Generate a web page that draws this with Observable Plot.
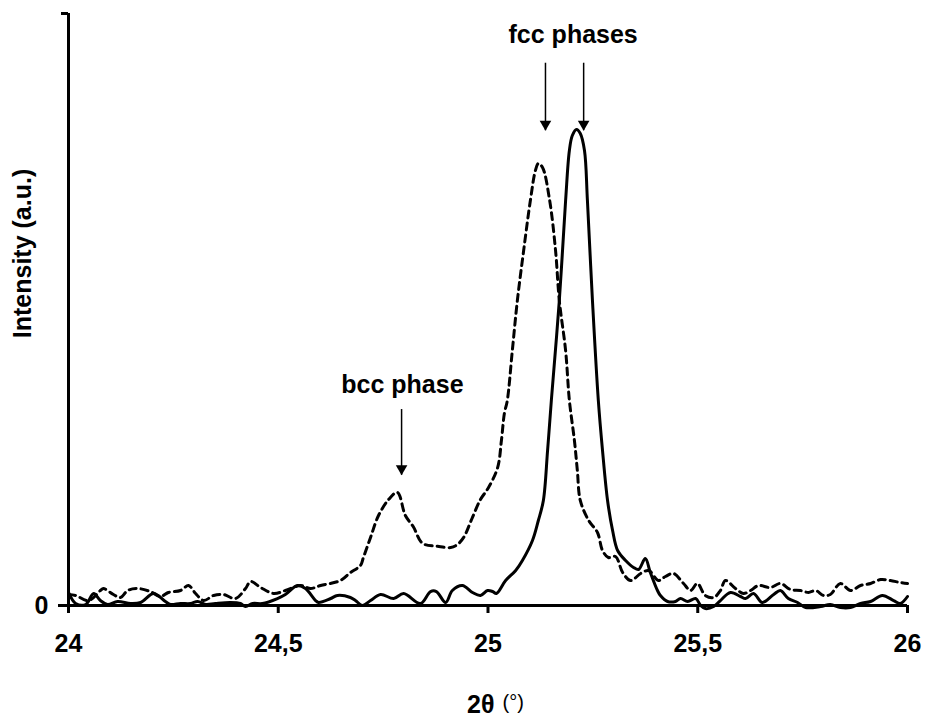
<!DOCTYPE html>
<html><head><meta charset="utf-8">
<script src="https://cdn.jsdelivr.net/npm/d3@7"></script>
<script src="https://cdn.jsdelivr.net/npm/@observablehq/plot@0.6"></script>
<style>html,body{margin:0;padding:0;background:#fff;overflow:hidden}</style>
</head><body><div id="chart"></div>
<script>
// [2θ (°), intensity (a.u., 0–100 scale)]
const solidScan = [
[24.000,2.2],[24.017,0.34],[24.041,0.17],[24.060,2.03],[24.076,0.84],[24.093,0.17],[24.117,0.68],[24.148,0.34],[24.172,0.51],[24.203,2.03],[24.231,0.68],[24.243,0.17],[24.267,0.34],[24.291,0.34],[24.308,0.68],[24.327,0.17],[24.350,0.34],[24.386,0.51],[24.410,0.34],[24.422,-0.17],[24.439,0.34],[24.462,0.34],[24.498,1.18],[24.517,1.86],[24.546,3.38],[24.565,2.87],[24.589,0.84],[24.596,0.51],[24.625,1.18],[24.641,1.69],[24.672,1.35],[24.684,0.84],[24.701,0],[24.720,0.84],[24.744,1.86],[24.775,1.18],[24.799,2.03],[24.839,0.34],[24.863,2.36],[24.877,2.36],[24.899,0.51],[24.915,2.53],[24.939,3.38],[24.963,2.2],[24.982,1.69],[24.999,2.53],[25.011,2.36],[25.020,2.03],[25.042,4.22],[25.066,5.91],[25.082,7.6],[25.106,10.98],[25.120,14.36],[25.132,17.74],[25.142,26.18],[25.151,34.63],[25.170,51.52],[25.185,68.41],[25.194,76.86],[25.201,79.39],[25.211,80.41],[25.220,79.73],[25.230,76.86],[25.237,68.41],[25.249,51.52],[25.263,34.63],[25.273,26.18],[25.285,17.74],[25.297,12.67],[25.309,9.29],[25.328,7.6],[25.347,6.42],[25.359,6.08],[25.375,7.94],[25.387,5.57],[25.404,2.53],[25.411,1.69],[25.428,0.68],[25.447,0.68],[25.459,1.18],[25.476,0.68],[25.495,1.18],[25.507,0],[25.518,-0.51],[25.538,-0.17],[25.554,0.84],[25.578,2.2],[25.602,1.52],[25.614,1.18],[25.633,2.03],[25.654,0.51],[25.681,1.86],[25.697,2.53],[25.716,1.18],[25.738,0.51],[25.757,-0.34],[25.793,-0.17],[25.816,0.17],[25.840,-0.34],[25.864,-0.34],[25.888,0.34],[25.912,0.68],[25.940,1.69],[25.967,0.84],[25.983,0.34],[26.000,1.52]
];
const dashedScan = [
[24.000,1.86],[24.017,1.69],[24.048,0.84],[24.076,2.53],[24.083,2.87],[24.107,1.86],[24.124,1.35],[24.141,2.53],[24.164,2.87],[24.195,2.36],[24.219,1.52],[24.238,2.2],[24.267,2.53],[24.286,3.38],[24.303,2.03],[24.322,0.84],[24.346,1.69],[24.369,1.86],[24.398,1.18],[24.422,2.87],[24.434,4.05],[24.458,3.04],[24.489,2.03],[24.517,2.53],[24.553,3.38],[24.577,2.87],[24.601,3.38],[24.648,4.22],[24.672,5.57],[24.696,6.76],[24.703,8.11],[24.720,11.49],[24.739,15.2],[24.763,17.9],[24.784,19.1],[24.803,15.2],[24.822,13.3],[24.844,10.5],[24.880,10.0],[24.911,9.8],[24.927,10.3],[24.942,11.5],[24.963,14.9],[24.982,17.9],[25.001,19.9],[25.023,23.3],[25.032,27.87],[25.039,32.43],[25.046,34.63],[25.058,43.07],[25.070,51.52],[25.085,59.97],[25.101,68.41],[25.113,73.48],[25.120,74.66],[25.130,73.99],[25.147,68.41],[25.161,59.97],[25.170,51.52],[25.185,43.07],[25.194,34.63],[25.206,27.87],[25.213,22.80],[25.220,17.74],[25.240,14.36],[25.261,12.33],[25.273,9.29],[25.287,8.11],[25.304,8.28],[25.321,5.57],[25.340,4.22],[25.364,5.41],[25.383,5.91],[25.406,4.22],[25.423,4.90],[25.442,5.41],[25.466,3.72],[25.483,2.53],[25.499,3.72],[25.518,1.69],[25.538,1.35],[25.554,2.53],[25.566,4.22],[25.590,2.87],[25.609,2.03],[25.626,2.53],[25.645,3.38],[25.673,3.04],[25.697,3.72],[25.721,2.70],[25.745,2.53],[25.764,2.2],[25.781,2.53],[25.800,1.69],[25.816,1.86],[25.840,3.72],[25.864,2.53],[25.888,3.38],[25.912,3.72],[25.936,4.39],[25.959,4.22],[25.983,3.89],[26.000,3.72]
];
const xTicks = [24, 24.5, 25, 25.5, 26];
const yTicks = [0];
const yTopTick = [100];
const annotations = [
  {text: "fcc phases", x: 25.203, y: 96.3},
  {text: "bcc phase", x: 24.796, y: 37.2}
];
const arrows = [
  {x: 24.794, y1: 33.1, y2: 22.0},
  {x: 25.137, y1: 91.6, y2: 80.2},
  {x: 25.228, y1: 91.6, y2: 80.2}
];
const xTitle = "2θ";
const xUnit = "(°)";
const yTitle = "Intensity (a.u.)";

const font = "'Liberation Sans', Arial, Helvetica, sans-serif";
const chart = Plot.plot({
  width: 927, height: 724,
  marginLeft: 68, marginRight: 20, marginTop: 13, marginBottom: 119,
  style: {fontFamily: font, fontSize: "25px", fontWeight: "bold", color: "black", background: "white", overflow: "visible"},
  x: {domain: [24, 26]},
  y: {domain: [0, 100]},
  marks: [
    Plot.line(dashedScan, {x: d => d[0], y: d => d[1], stroke: "black", strokeWidth: 3, strokeDasharray: "7,5", curve: "catmull-rom"}),
    Plot.line(solidScan, {x: d => d[0], y: d => d[1], stroke: "black", strokeWidth: 3, curve: "catmull-rom"}),
    Plot.ruleX([24], {stroke: "black", strokeWidth: 3}),
    Plot.ruleY([0], {stroke: "black", strokeWidth: 3}),
    Plot.axisX({ticks: xTicks, tickSize: 8, tickPadding: 21, tickFormat: d => String(d).replace(".", ","), strokeWidth: 3, fontSize: 25, label: null}),
    Plot.axisY({ticks: yTicks, tickSize: 10, tickPadding: 10, tickFormat: d => String(d), strokeWidth: 3, fontSize: 25, label: null}),
    Plot.axisY({ticks: yTopTick, tickSize: 7, tickFormat: () => "", strokeWidth: 3, label: null}),
    Plot.ruleX(arrows, {x: "x", y1: "y1", y2: "y2", stroke: "black", strokeWidth: 1.5}),
    Plot.dot(arrows, {x: "x", y: "y2", symbol: "triangle", rotate: 180, r: 4.3, fill: "black", stroke: null, dy: -6.7}),
    Plot.text(annotations, {x: "x", y: "y", text: "text", fontSize: 25, fontWeight: "bold", textAnchor: "middle", lineAnchor: "middle"}),
    Plot.text([yTitle], {frameAnchor: "left", rotate: -90, dx: -46, dy: -56, fontSize: 25, fontWeight: "bold", textAnchor: "middle", lineAnchor: "middle"}),
    Plot.text([xTitle], {frameAnchor: "bottom", textAnchor: "end", dx: 6.5, dy: 99, fontSize: 25, fontWeight: "bold", lineAnchor: "middle"}),
    Plot.text([xUnit], {frameAnchor: "bottom", textAnchor: "start", dx: 14.5, dy: 96.6, fontSize: 20, fontWeight: "normal", lineAnchor: "middle"})
  ]
});
document.getElementById("chart").appendChild(chart);
</script>
</body></html>
